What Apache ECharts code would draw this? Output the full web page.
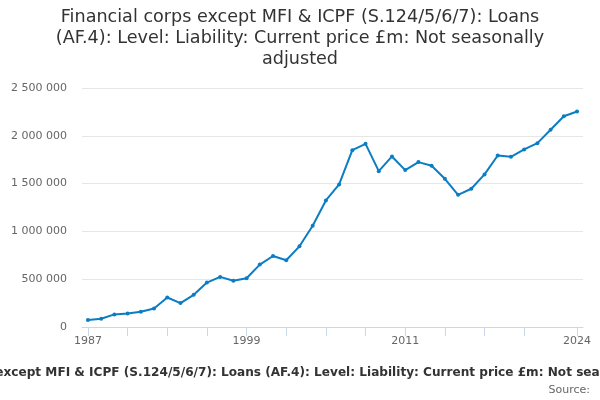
<!DOCTYPE html>
<html>
<head>
<meta charset="utf-8">
<script src="https://cdn.jsdelivr.net/npm/echarts@6/dist/echarts.min.js"></script>
<style>html,body{margin:0;padding:0;background:#fff;}#c{width:600px;height:400px;}</style>
</head>
<body>
<div id="c"></div>
<script>
var years = [1987,1988,1989,1990,1991,1992,1993,1994,1995,1996,1997,1998,1999,2000,2001,2002,2003,2004,2005,2006,2007,2008,2009,2010,2011,2012,2013,2014,2015,2016,2017,2018,2019,2020,2021,2022,2023,2024];
var values = [73000,87000,132000,142000,160000,194000,309000,250000,337000,465000,524000,483000,510000,653000,743000,698000,844000,1059000,1324000,1491000,1850000,1916000,1630000,1784000,1641000,1725000,1686000,1550000,1383000,1446000,1596000,1794000,1780000,1857000,1923000,2063000,2205000,2254000];
var tickYears = [1987,1990,1993,1996,1999,2002,2005,2008,2011,2014,2017,2020,2024];
var labelYears = [1987,1999,2011,2024];
var titleText = 'Financial corps except MFI & ICPF (S.124/5/6/7): Loans\n(AF.4): Level: Liability: Current price £m: Not seasonally\nadjusted';
var footText = 'Financial corps except MFI & ICPF (S.124/5/6/7): Loans (AF.4): Level: Liability: Current price £m: Not seasonally adjusted';

var chart = echarts.init(document.getElementById('c'), null, {renderer: 'canvas'});
var font = 'DejaVu Sans';
chart.setOption({
  animation: false,
  backgroundColor: '#ffffff',
  textStyle: {fontFamily: font},
  graphic: [
    {type: 'text', x: 300, y: 7, style: {text: titleText, x: 0, y: 0, textAlign: 'center', textVerticalAlign: 'top', fontFamily: font, fontSize: 17.6, lineHeight: 21, fill: '#333333'}},
    {type: 'text', x: 300, y: 367, style: {text: footText, x: 0, y: 0, textAlign: 'center', textVerticalAlign: 'top', fontFamily: font, fontSize: 12.1, fontWeight: 'bold', fill: '#333333'}},
    {type: 'text', right: 10, top: 385, style: {text: 'Source:', fontFamily: font, fontSize: 11, fill: '#666666'}}
  ],
  grid: {left: 82, right: 17, top: 88, bottom: 73, containLabel: false},
  xAxis: {
    type: 'value',
    min: 1986.55,
    max: 2024.45,
    splitLine: {show: false},
    axisLine: {show: true, lineStyle: {color: '#ccd6eb', width: 1}},
    axisTick: {show: true, length: 9, lineStyle: {color: '#ccd6eb'}, customValues: tickYears},
    axisLabel: {color: '#666666', fontSize: 11, fontFamily: font, margin: 9, customValues: labelYears, formatter: function(v){return String(v);}}
  },
  yAxis: {
    type: 'value',
    min: 0,
    max: 2500000,
    interval: 500000,
    axisLine: {show: false},
    axisTick: {show: false},
    splitLine: {lineStyle: {color: '#e6e6e6', width: 1}},
    axisLabel: {color: '#666666', fontSize: 11, fontFamily: font, margin: 15,
      formatter: function(v){ return String(v).replace(/\B(?=(\d{3})+(?!\d))/g, ' '); }}
  },
  series: [{
    type: 'line',
    data: years.map(function(y, i){ return [y, values[i]]; }),
    symbol: 'circle',
    symbolSize: 4,
    showAllSymbol: true,
    lineStyle: {color: '#0b7dc3', width: 2},
    itemStyle: {color: '#0b7dc3'}
  }]
});
</script>
</body>
</html>
